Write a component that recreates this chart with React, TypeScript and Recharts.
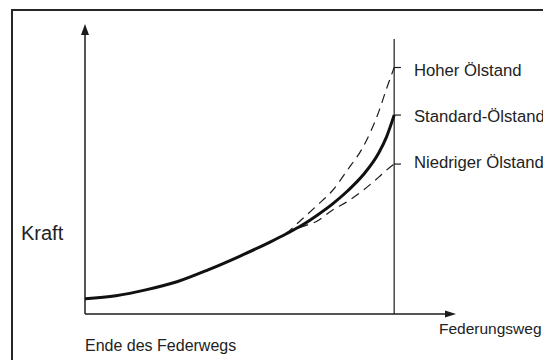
import { LineChart, Line, XAxis, YAxis, ReferenceLine, ReferenceDot, Customized } from 'recharts';

// Federungsweg (0 = Ende des Federwegs, 100 = Endanschlag)
const weg = [0, 10, 20, 30, 40, 50, 60, 65, 70, 75, 80, 85, 90, 95, 97.5, 100];
const standardOel = [5.3, 6.3, 8.4, 11.2, 15.3, 19.9, 24.9, 27.6, 30.5, 34.0, 37.9, 42.5, 48.0, 55.5, 61.0, 68.6];
const hoherOel = [null, null, null, null, null, null, null, 27.6, 32.5, 37.4, 42.5, 49.8, 57.7, 69.7, 77.6, 85];
const niedrigerOel = [null, null, null, null, null, null, null, 27.6, 30.0, 32.0, 35.8, 38.9, 42.7, 47.2, 49.6, 51.7];

const endLabels = ['Hoher Ölstand', 'Standard-Ölstand', 'Niedriger Ölstand'];
const endWerte = [85, 68.6, 51.7];
const labelVersatz = [3, 1, -2];

const data = weg.map((x, i) => ({
  weg: x,
  standard: standardOel[i],
  hoch: hoherOel[i],
  niedrig: niedrigerOel[i],
}));

const FONT = '"Liberation Sans", Arial, sans-serif';
const INK = '#1c1c1c';

function Captions() {
  return (
    <g fontFamily={FONT} fill="#222">
      <text x={21} y={240} fontSize={20}>Kraft</text>
      <text x={85} y={351} fontSize={16}>Ende des Federwegs</text>
      <text x={439} y={334} fontSize={15.5}>Federungsweg</text>
    </g>
  );
}

const ArrowUp = (props: any) => (
  <polygon
    points={`${props.cx},${props.cy} ${props.cx - 4},${props.cy + 11} ${props.cx + 4},${props.cy + 11}`}
    fill={INK}
  />
);

const ArrowRight = (props: any) => (
  <polygon
    points={`${props.cx},${props.cy} ${props.cx - 11},${props.cy - 3.5} ${props.cx - 11},${props.cy + 3.5}`}
    fill={INK}
  />
);

export default function App() {
  return (
    <div
      style={{
        position: 'absolute',
        left: 0,
        top: 0,
        width: 543,
        height: 360,
        overflow: 'hidden',
        background: '#fff',
      }}
    >
      <div
        style={{
          position: 'absolute',
          left: 11,
          top: 9,
          width: 620,
          height: 420,
          border: '2px solid #262626',
        }}
      />
      <div style={{ position: 'absolute', left: 0, top: 0 }}>
        <LineChart width={543} height={360} data={data} margin={{ top: 24, right: 87, bottom: 46, left: 85 }}>
          <XAxis type="number" dataKey="weg" domain={[0, 120]} hide />
          <YAxis type="number" domain={[0, 100]} hide />

          {/* Achsen */}
          <ReferenceLine segment={[{ x: 0, y: 0 }, { x: 118, y: 0 }]} stroke={INK} strokeWidth={1.5} ifOverflow="visible" />
          <ReferenceLine segment={[{ x: 0, y: 0 }, { x: 0, y: 97 }]} stroke={INK} strokeWidth={1.5} ifOverflow="visible" />
          <ReferenceDot x={0} y={100} r={0} shape={ArrowUp} ifOverflow="visible" />
          <ReferenceDot x={120} y={0} r={0} shape={ArrowRight} ifOverflow="visible" />

          {/* Endanschlag */}
          <ReferenceLine segment={[{ x: 100, y: 0 }, { x: 100, y: 94.8 }]} stroke={INK} strokeWidth={1.2} ifOverflow="visible" />
          {endLabels.map((label, i) => (
            <ReferenceLine
              key={label}
              segment={[{ x: 100, y: endWerte[i] }, { x: 102.2, y: endWerte[i] }]}
              stroke={INK}
              strokeWidth={1.2}
              ifOverflow="visible"
              label={{
                value: label,
                position: 'right',
                offset: 13,
                dy: labelVersatz[i],
                fontSize: 16.7,
                fill: '#222',
                fontFamily: FONT,
              }}
            />
          ))}

          <Line
            type="monotone"
            dataKey="hoch"
            stroke={INK}
            strokeWidth={1.2}
            strokeDasharray="9 6"
            dot={false}
            isAnimationActive={false}
          />
          <Line
            type="monotone"
            dataKey="niedrig"
            stroke={INK}
            strokeWidth={1.2}
            strokeDasharray="9 6"
            dot={false}
            isAnimationActive={false}
          />
          <Line
            type="monotone"
            dataKey="standard"
            stroke="#111"
            strokeWidth={3}
            dot={false}
            isAnimationActive={false}
          />
          <Customized component={Captions} />
        </LineChart>
      </div>
    </div>
  );
}
